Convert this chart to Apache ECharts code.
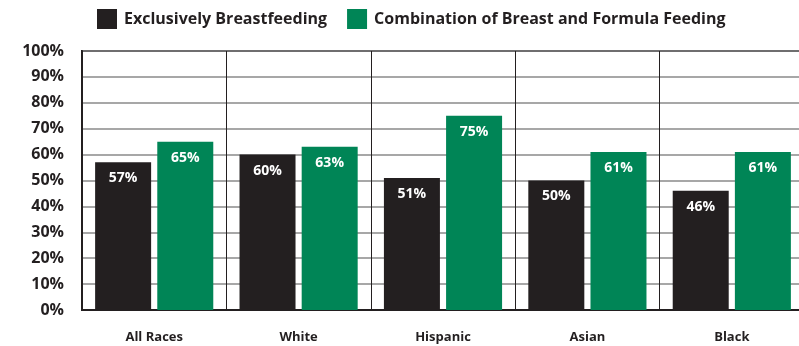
<!DOCTYPE html>
<html><head><meta charset="utf-8">
<script src="https://cdn.jsdelivr.net/npm/echarts@6/dist/echarts.min.js"></script>
<style>html,body{margin:0;padding:0;background:#fff}#c{width:799px;height:346px}</style>
</head><body><div id="c"></div>
<script>
var categories = ['All Races', 'White', 'Hispanic', 'Asian', 'Black'];
var exclusive = [57, 60, 51, 50, 46];
var combination = [65, 63, 75, 61, 61];
var seriesNames = ['Exclusively Breastfeeding', 'Combination of Breast and Formula Feeding'];
var yTicks = [0, 10, 20, 30, 40, 50, 60, 70, 80, 90, 100];

var chart = echarts.init(document.getElementById('c'));
var font = '"Open Sans", sans-serif';
var dark = '#231f20';
var green = '#008556';
var labelCfg = {
  show: true, position: 'insideTop', distance: 9, color: '#fff',
  fontFamily: font, fontWeight: 'bold', fontSize: 14,
  formatter: function (p) { return p.value + '%'; }
};
chart.setOption({
  animation: false,
  legend: {
    top: 9, left: 97, padding: 0, itemWidth: 20, itemHeight: 20, itemGap: 20,
    icon: 'rect',
    textStyle: { fontFamily: font, fontWeight: 'bold', fontSize: 16, color: dark, padding: [0, 0, 0, 2] },
    data: seriesNames
  },
  grid: { left: 82, width: 722, top: 51, bottom: 36, show: true, borderColor: dark, borderWidth: 2, containLabel: false, outerBoundsMode: 'none' },
  xAxis: {
    type: 'category', data: categories,
    axisLine: { show: true, lineStyle: { color: dark, width: 2 } },
    axisTick: { show: false },
    axisLabel: { margin: 21, fontFamily: font, fontWeight: 'bold', fontSize: 13, color: dark },
    splitLine: { show: true, lineStyle: { color: dark, width: 1 } }
  },
  yAxis: {
    type: 'value', min: 0, max: 100, interval: 10,
    axisLine: { show: true, lineStyle: { color: dark, width: 2 } },
    axisTick: { show: false },
    axisLabel: {
      margin: 18, fontFamily: font, fontWeight: 'bold', fontSize: 16, color: dark,
      formatter: function (v) { return yTicks.indexOf(v) >= 0 ? v + '%' : ''; }
    },
    splitLine: { show: true, lineStyle: { color: '#8a8a8a', width: 1.5 } }
  },
  series: [
    { name: seriesNames[0], type: 'bar', data: exclusive, barWidth: 56, barGap: '11%', itemStyle: { color: dark }, label: labelCfg },
    { name: seriesNames[1], type: 'bar', data: combination, barWidth: 56, itemStyle: { color: green }, label: labelCfg }
  ]
});
</script></body></html>
